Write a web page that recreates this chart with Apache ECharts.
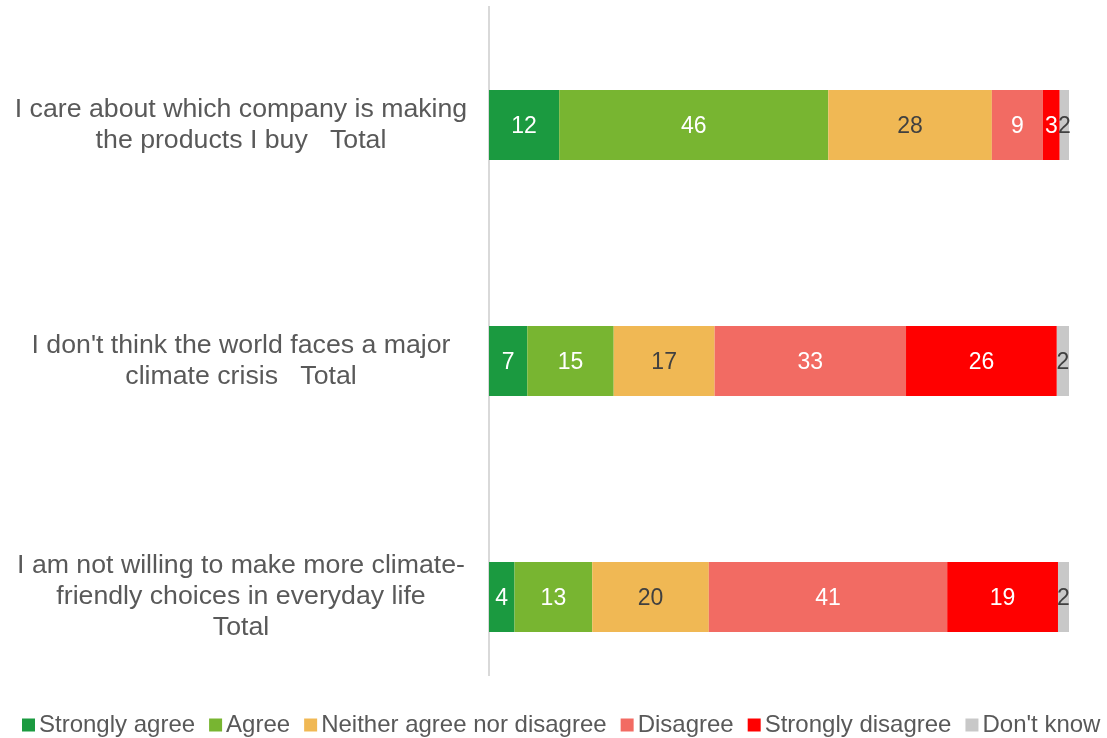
<!DOCTYPE html>
<html>
<head>
<meta charset="utf-8">
<script src="https://cdn.jsdelivr.net/npm/echarts@6/dist/echarts.min.js"></script>
<style>
html,body{margin:0;padding:0;background:#fff;}
#chart{width:1107px;height:738px;}
</style>
</head>
<body>
<div id="chart"></div>
<script>
var categories = [
  "I care about which company is making\nthe products I buy   Total",
  "I don't think the world faces a major\nclimate crisis   Total",
  "I am not willing to make more climate-\nfriendly choices in everyday life\nTotal"
];
var seriesNames = ["Strongly agree", "Agree", "Neither agree nor disagree", "Disagree", "Strongly disagree", "Don't know"];
var stronglyAgree    = [12.1, 6.6, 4.4];
var agree            = [46.4, 14.9, 13.4];
var neither          = [28.2, 17.4, 20.1];
var disagree         = [8.8, 33.0, 41.1];
var stronglyDisagree = [2.9, 26.0, 19.1];
var dontKnow         = [1.6, 2.1, 1.9];

var colors = ["#1b9a40", "#78b531", "#f0b854", "#f26b63", "#ff0000", "#c8c8c8"];
var labelColors = ["#ffffff", "#ffffff", "#404040", "#ffffff", "#ffffff", "#404040"];
var allData = [stronglyAgree, agree, neither, disagree, stronglyDisagree, dontKnow];

// reverse so first category is on top
var cats = categories.slice().reverse();
var series = seriesNames.map(function (name, i) {
  return {
    name: name,
    type: 'bar',
    stack: 'total',
    barWidth: 70,
    itemStyle: { color: colors[i] },
    label: {
      show: true,
      position: 'inside',
      offset: [0, 2],
      color: labelColors[i],
      fontSize: 23,
      fontFamily: 'Liberation Sans, Arial, sans-serif',
      formatter: function (p) { return Math.round(p.value); }
    },
    emphasis: { disabled: true },
    data: allData[i].slice().reverse()
  };
});

var chart = echarts.init(document.getElementById('chart'), null, { renderer: 'canvas' });
chart.setOption({
  animation: false,
  backgroundColor: '#ffffff',
  textStyle: { fontFamily: 'Liberation Sans, Arial, sans-serif' },
  grid: { left: 489, right: 38, top: 7, height: 708, containLabel: false },
  xAxis: {
    type: 'value', min: 0, max: 100,
    show: false
  },
  yAxis: {
    type: 'category',
    data: cats,
    axisLine: { show: false },
    axisTick: { show: false },
    splitLine: { show: false },
    axisLabel: {
      align: 'center',
      margin: 248,
      fontSize: 26.7,
      lineHeight: 31,
      color: '#595959',
      fontFamily: 'Liberation Sans, Arial, sans-serif'
    }
  },
  legend: {
    top: 708,
    left: 17,
    itemWidth: 13,
    itemHeight: 13,
    itemGap: 14,
    icon: 'rect',
    textStyle: { fontSize: 24, color: '#595959', padding: [0, 0, 0, -1], fontFamily: 'Liberation Sans, Arial, sans-serif' },
    data: seriesNames
  },
  graphic: [{
    type: 'line',
    shape: { x1: 489, y1: 6, x2: 489, y2: 676 },
    style: { stroke: '#d9d9d9', lineWidth: 2 },
    z: -1
  }],
  series: series
});
</script>
</body>
</html>
